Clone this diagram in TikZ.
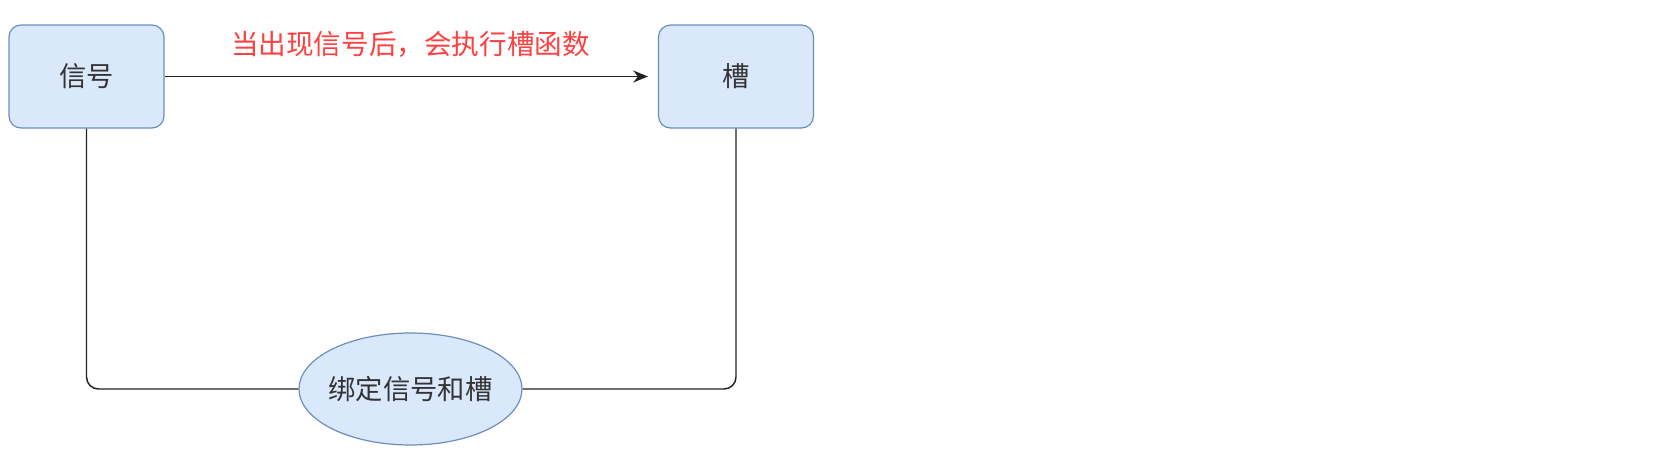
\documentclass[tikz,border=0pt]{standalone}
\usepackage{fontspec}
\setmainfont{Noto Sans CJK SC}
\usetikzlibrary{shapes.geometric,arrows.meta}
\definecolor{boxfill}{HTML}{DAE8FC}
\definecolor{boxdraw}{HTML}{6C8EBF}
\definecolor{labelred}{HTML}{FF4040}
\definecolor{txt}{HTML}{333333}
\definecolor{wire}{HTML}{222222}
\tikzset{
  box/.style={draw=boxdraw, fill=boxfill, rounded corners=12*0.75pt, line width=0.9pt,
    minimum width=155*0.75pt, minimum height=103*0.75pt, inner sep=0pt,
    text=txt, font=\fontsize{20.5pt}{23pt}\selectfont},
  oval/.style={ellipse, draw=boxdraw, fill=boxfill, line width=0.9pt,
    minimum width=223*0.75pt, minimum height=112*0.75pt, inner sep=-8pt,
    text=txt, font=\fontsize{20.5pt}{23pt}\selectfont},
  wirestyle/.style={draw=wire, line width=1.1pt},
}
\begin{document}
\begin{tikzpicture}[x=0.75pt,y=-0.75pt]
\useasboundingbox (0,0) rectangle (1664,454);
\node[box] (sig) at (86.5,76.5) {信号};
\node[box] (slot) at (736,76.5) {槽};
\node[oval] (bind) at (410.5,389) {绑定信号和槽};
\node[text=labelred, font=\fontsize{20.7pt}{23pt}\selectfont, inner sep=0pt] (lbl) at (410.5,44) {当出现信号后，会执行槽函数};
\draw[wirestyle, -{Stealth[length=11pt,width=9pt]}, shorten >=10*0.75pt] (sig.east) -- (slot.west);
\draw[wirestyle, rounded corners=12*0.75pt] (sig.south) |- (bind.west);
\draw[wirestyle, rounded corners=12*0.75pt] (slot.south) |- (bind.east);
\end{tikzpicture}
\end{document}
